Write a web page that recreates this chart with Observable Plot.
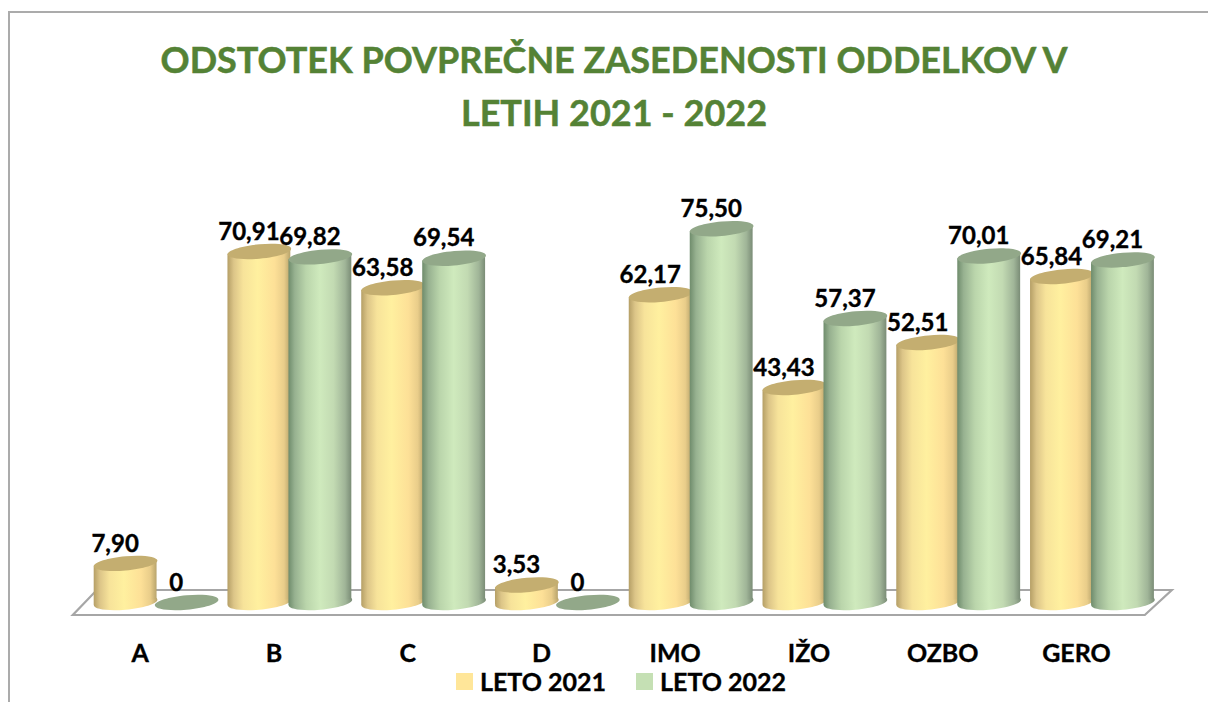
<!DOCTYPE html>
<html lang="sl">
<head>
<meta charset="utf-8">
<script src="https://cdn.jsdelivr.net/npm/d3@7"></script>
<script src="https://cdn.jsdelivr.net/npm/@observablehq/plot@0.6"></script>
<style>
  html, body { margin: 0; padding: 0; background: #fff; }
  body { width: 1208px; height: 702px; overflow: hidden; position: relative; font-family: Lato, sans-serif; }
  #frame { position: absolute; left: 8px; top: 11px; right: -4px; bottom: -4px; border-top: 2px solid #ababab; border-left: 2px solid #ababab; }
  #title { position: absolute; left: 10px; width: 1208px; top: 33px; margin: 0; text-align: center; color: #548235; font: 700 36px/53px Lato, sans-serif; -webkit-text-stroke: 0.5px #548235; }
  #chart { position: absolute; left: 0; top: 140px; }
  #legend { position: absolute; left: 456px; top: 667px; display: flex; align-items: center; font: 700 25px/28px Lato, sans-serif; color: #000; -webkit-text-stroke: 0.35px #000; }
  #legend i { display: inline-block; width: 17px; height: 17px; margin-right: 7px; }
  #legend span + i { margin-left: 30px; }
  .cyl rect { transform-box: fill-box; transform-origin: center; transform: skewY(-5deg); }
  #chart svg text { stroke: #000; stroke-width: 0.35px; }
</style>
</head>
<body>
<div id="frame"></div>
<h1 id="title">ODSTOTEK POVPREČNE ZASEDENOSTI ODDELKOV V<br>LETIH 2021 - 2022</h1>
<div id="chart"></div>
<div id="legend"></div>
<script>
const categories = ["A", "B", "C", "D", "IMO", "IŽO", "OZBO", "GERO"];
const leto2021 = [7.90, 70.91, 63.58, 3.53, 62.17, 43.43, 52.51, 65.84];
const leto2022 = [0, 69.82, 69.54, 0, 75.50, 57.37, 70.01, 69.21];
const seriesNames = ["LETO 2021", "LETO 2022"];
const legendColors = ["#ffe699", "#c5e0b4"];

const table = (values) => categories.map((category, i) => ({category, value: values[i]}));
const label = (d) => d.value === 0 ? "0" : d.value.toFixed(2).replace(".", ",");

// Ellipse skewed to suggest the perspective of the 3D chart; rx/ry are shape constants.
const SLANT = Math.tan(5 * Math.PI / 180);
const ellipse = (rx, ry) => ({
  draw(ctx) {
    const k = 0.5523;
    const P = (x, y) => [x, y - x * SLANT];
    ctx.moveTo(...P(-rx, 0));
    ctx.bezierCurveTo(...P(-rx, -k * ry), ...P(-k * rx, -ry), ...P(0, -ry));
    ctx.bezierCurveTo(...P(k * rx, -ry), ...P(rx, -k * ry), ...P(rx, 0));
    ctx.bezierCurveTo(...P(rx, k * ry), ...P(k * rx, ry), ...P(0, ry));
    ctx.bezierCurveTo(...P(-k * rx, ry), ...P(-rx, k * ry), ...P(-rx, 0));
    ctx.closePath();
  }
});
// Floor of the 3D chart, centred on the zero line.
const floor = {
  draw(ctx) {
    ctx.moveTo(-536, 12.5);
    ctx.lineTo(536, 12.5);
    ctx.lineTo(563, -12.5);
    ctx.lineTo(-512, -12.5);
    ctx.closePath();
  }
};

const defs = () => {
  const svg = d3.create("svg:defs");
  const grad = (id, stops) => {
    const g = svg.append("linearGradient").attr("id", id);
    stops.forEach(([o, c]) => g.append("stop").attr("offset", o).attr("stop-color", c));
  };
  grad("gold", [[0, "#b59f66"], [0.1, "#dcc588"], [0.25, "#f7e39a"], [0.48, "#fff09f"], [0.75, "#fde097"], [0.9, "#e9cd8a"], [1, "#b8a46c"]]);
  grad("sage", [[0, "#6f8c6c"], [0.1, "#97b190"], [0.28, "#bad5ab"], [0.5, "#cfeabd"], [0.72, "#c2dab2"], [0.9, "#a0b598"], [1, "#7a8c76"]]);
  return svg.node();
};

const cylinder = (values, dx, fill, top) => {
  const rows = table(values);
  const raised = rows.filter((d) => d.value > 0);
  const shape = ellipse(31.8, 7.2);
  return [
    Plot.dot(raised, {x: "category", y: () => 0, dx, symbol: shape, r: 1, fill: `url(#${fill})`}),
    Plot.barY(raised, {x: "category", y: "value", dx, fill: `url(#${fill})`, className: "cyl"}),
    Plot.dot(rows, {x: "category", y: "value", dx, symbol: shape, r: 1, fill: top}),
    Plot.text(rows, {x: "category", y: "value", dx: dx - 10.5, dy: -19.5, text: label, fontSize: 24, fontWeight: 700, fill: "#000"})
  ];
};

const chart = Plot.plot({
  width: 1208,
  height: 530,
  marginLeft: 37.3,
  marginRight: 29.7,
  marginTop: 66,
  marginBottom: 68,
  style: {background: "transparent", fontFamily: "Lato, sans-serif", overflow: "visible"},
  x: {domain: categories, padding: 0.53, round: false},
  y: {domain: [0, 80], axis: null},
  marks: [
    defs,
    Plot.dot([0], {y: (d) => d, frameAnchor: "middle", dx: 0.5, symbol: floor, r: 1, fill: "#fff", stroke: "#a6a6a6", strokeWidth: 2.2}),
    ...cylinder(leto2021, -14.5, "gold", "#c4ae70"),
    ...cylinder(leto2022, 46.5, "sage", "#92a889"),
    Plot.axisX({anchor: "bottom", tickSize: 0, tickPadding: 42, label: null, fontSize: 25, fontWeight: 700, fill: "#000"})
  ]
});
document.getElementById("chart").append(chart);

const legend = d3.select("#legend");
seriesNames.forEach((name, i) => {
  legend.append("i").style("background", legendColors[i]);
  legend.append("span").text(name);
});
</script>
</body>
</html>
